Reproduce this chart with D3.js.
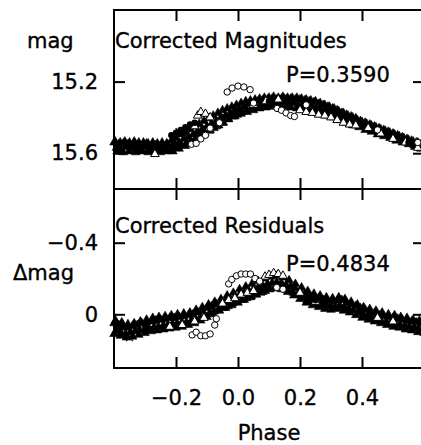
<!DOCTYPE html>
<html><head><meta charset="utf-8">
<script src="https://cdn.jsdelivr.net/npm/d3@7"></script>
<style>
body{margin:0;background:#fff}
svg{display:block}
text{font-family:"DejaVu Sans",sans-serif;fill:#000}
</style>
</head><body>
<svg id="chart" width="421" height="445"></svg>
<script>
// ---------- data ----------
const phaseTicks = [-0.2, 0.0, 0.2, 0.4];
const magTicks = [15.2, 15.6];
const resTicks = [-0.4, 0];
const panelTitles = ["Corrected Magnitudes", "Corrected Residuals"];
const periods = ["P=0.3590", "P=0.4834"];

// top panel: [phase, mag]
const magFilledTri = [[-0.400,15.54],[-0.392,15.57],[-0.385,15.55],[-0.378,15.58],[-0.370,15.545],[-0.362,15.565],[-0.355,15.55],[-0.347,15.575],[-0.340,15.56],[-0.332,15.545],[-0.325,15.57],[-0.317,15.555],[-0.310,15.58],[-0.302,15.56],[-0.295,15.545],[-0.287,15.575],[-0.280,15.56],[-0.272,15.58],[-0.265,15.555],[-0.257,15.57],[-0.250,15.585],[-0.242,15.56],[-0.235,15.575],[-0.227,15.55],[-0.220,15.58],[-0.212,15.565],[-0.205,15.545],[-0.197,15.57],[-0.190,15.54],[-0.182,15.555],[-0.175,15.52],[-0.167,15.545],[-0.160,15.51],[-0.152,15.53],[-0.145,15.495],[-0.137,15.52],[-0.130,15.48],[-0.122,15.505],[-0.115,15.465],[-0.107,15.49],[-0.100,15.45],[-0.092,15.475],[-0.085,15.435],[-0.077,15.46],[-0.070,15.42],[-0.062,15.445],[-0.055,15.40],[-0.047,15.43],[-0.040,15.39],[-0.032,15.41],[-0.025,15.375],[-0.017,15.395],[-0.010,15.36],[-0.002,15.385],[0.005,15.35],[0.013,15.37],[0.020,15.34],[0.028,15.36],[0.035,15.325],[0.043,15.35],[0.050,15.32],[0.058,15.345],[0.065,15.31],[0.073,15.335],[0.080,15.305],[0.088,15.33],[0.095,15.30],[0.103,15.325],[0.110,15.295],[0.118,15.32],[0.125,15.30],[0.133,15.325],[0.140,15.295],[0.148,15.32],[0.155,15.30],[0.163,15.325],[0.170,15.295],[0.178,15.32],[0.185,15.30],[0.193,15.33],[0.200,15.30],[0.208,15.325],[0.215,15.305],[0.223,15.335],[0.230,15.31],[0.238,15.34],[0.245,15.315],[0.253,15.345],[0.260,15.325],[0.268,15.355],[0.275,15.33],[0.283,15.36],[0.290,15.34],[0.298,15.37],[0.305,15.35],[0.313,15.38],[0.320,15.36],[0.328,15.39],[0.335,15.375],[0.343,15.40],[0.350,15.385],[0.358,15.41],[0.365,15.395],[0.373,15.425],[0.380,15.405],[0.388,15.435],[0.395,15.42],[0.403,15.45],[0.410,15.43],[0.418,15.455],[0.425,15.44],[0.433,15.47],[0.440,15.45],[0.448,15.475],[0.455,15.46],[0.463,15.485],[0.470,15.47],[0.478,15.495],[0.485,15.48],[0.493,15.505],[0.500,15.49],[0.508,15.515],[0.515,15.50],[0.523,15.525],[0.530,15.51],[0.538,15.535],[0.545,15.52],[0.553,15.545],[0.560,15.53],[0.568,15.555],[0.575,15.54],[0.583,15.565],[0.590,15.55],[0.598,15.57]];
const magFilledTriUpper = [[-0.396,15.535],[-0.38,15.54],[-0.365,15.535],[-0.35,15.54],[-0.335,15.535],[-0.32,15.54],[-0.305,15.54],[-0.29,15.545],[-0.275,15.54],[-0.26,15.545],[-0.245,15.54],[-0.23,15.545],[-0.215,15.53],[-0.2,15.515],[-0.185,15.495],[-0.17,15.48],[-0.155,15.465],[-0.14,15.45],[-0.125,15.435],[-0.11,15.42],[-0.095,15.405],[-0.08,15.39],[-0.065,15.375],[-0.05,15.36],[-0.035,15.35],[-0.02,15.34],[-0.005,15.33],[0.01,15.32],[0.025,15.31],[0.04,15.305],[0.055,15.30],[0.07,15.295],[0.085,15.29],[0.1,15.29],[0.115,15.285],[0.13,15.29],[0.145,15.285],[0.16,15.29],[0.175,15.29],[0.19,15.29],[0.205,15.295],[0.22,15.30],[0.235,15.305],[0.25,15.31],[0.265,15.32],[0.28,15.33],[0.295,15.34],[0.31,15.35],[0.325,15.365],[0.34,15.375],[0.355,15.39],[0.37,15.40],[0.385,15.415],[0.40,15.425],[0.415,15.435],[0.43,15.445],[0.445,15.455],[0.46,15.465],[0.475,15.475],[0.49,15.485],[0.505,15.495],[0.52,15.505],[0.535,15.515],[0.55,15.525],[0.565,15.535],[0.58,15.54],[0.595,15.545]];
const magFilledTriLower = [[-0.39,15.59],[-0.37,15.595],[-0.35,15.59],[-0.33,15.595],[-0.31,15.59],[-0.29,15.595],[-0.27,15.59],[-0.25,15.595],[-0.23,15.59],[-0.21,15.59],[-0.19,15.575],[-0.17,15.56],[-0.15,15.54],[-0.13,15.515],[-0.11,15.49],[-0.09,15.47],[-0.07,15.45],[-0.05,15.43],[-0.03,15.41],[-0.01,15.395],[0.01,15.38],[0.03,15.37],[0.05,15.36],[0.07,15.35],[0.09,15.345],[0.11,15.34],[0.13,15.34],[0.15,15.34],[0.17,15.345],[0.19,15.35],[0.21,15.355],[0.23,15.36],[0.25,15.37],[0.27,15.38],[0.29,15.39],[0.31,15.40],[0.33,15.415],[0.35,15.43],[0.37,15.445],[0.39,15.455],[0.41,15.47],[0.43,15.48],[0.45,15.495],[0.47,15.505],[0.49,15.515],[0.51,15.53],[0.53,15.54],[0.55,15.55],[0.57,15.565],[0.59,15.575]];
const magCross = [[-0.39,15.56],[-0.36,15.55],[-0.33,15.565],[-0.29,15.57],[-0.26,15.56],[-0.23,15.57],[-0.20,15.55],[-0.19,15.48],[-0.17,15.50],[-0.15,15.47],[-0.13,15.46],[-0.11,15.47],[-0.08,15.44],[-0.06,15.42],[-0.04,15.40],[-0.02,15.38],[0.01,15.36],[0.04,15.34],[0.07,15.32],[0.10,15.31],[0.12,15.30],[0.14,15.29],[0.16,15.31],[0.18,15.31],[0.21,15.32],[0.24,15.33],[0.27,15.35],[0.30,15.37],[0.33,15.39],[0.36,15.41],[0.39,15.43],[0.42,15.46],[0.45,15.48],[0.48,15.49],[0.51,15.51],[0.54,15.53],[0.57,15.55],[0.59,15.56]];
const magOpenTri = [[-0.268,15.605],[-0.14,15.45],[-0.13,15.39],[-0.12,15.37],[-0.105,15.38],[-0.09,15.40],[0.05,15.33],[0.09,15.31],[0.13,15.30],[0.20,15.36],[0.22,15.37],[0.24,15.375],[0.26,15.385],[0.28,15.39],[0.30,15.40],[0.32,15.415],[0.34,15.43],[0.36,15.44],[0.38,15.445],[0.42,15.46],[0.46,15.49],[0.50,15.52],[0.54,15.54],[0.58,15.57]];
const magOpenCirc = [[-0.035,15.258],[-0.019,15.236],[0.0,15.225],[0.019,15.23],[0.039,15.245],[0.126,15.35],[0.14,15.36],[0.155,15.375],[0.17,15.39],[0.182,15.395],[-0.15,15.55],[-0.135,15.545],[-0.12,15.52],[-0.105,15.50],[-0.09,15.46],[0.05,15.32],[0.22,15.33],[0.45,15.47],[0.58,15.54],[-0.06,15.43]];
const magFilledCirc = [[-0.30,15.56],[-0.25,15.555],[-0.215,15.50],[-0.20,15.485],[-0.185,15.47],[-0.17,15.455],[-0.155,15.44],[-0.14,15.43],[0.10,15.31],[0.30,15.36],[0.55,15.54]];

// bottom panel: [phase, delta mag]
const resFilledTri = [[-0.400,0.05],[-0.392,0.09],[-0.385,0.06],[-0.378,0.10],[-0.370,0.07],[-0.362,0.11],[-0.355,0.075],[-0.347,0.10],[-0.340,0.065],[-0.332,0.095],[-0.325,0.06],[-0.317,0.09],[-0.310,0.05],[-0.302,0.085],[-0.295,0.045],[-0.287,0.08],[-0.280,0.04],[-0.272,0.075],[-0.265,0.035],[-0.257,0.07],[-0.250,0.03],[-0.242,0.065],[-0.235,0.025],[-0.227,0.06],[-0.220,0.02],[-0.212,0.055],[-0.205,0.02],[-0.197,0.05],[-0.190,0.015],[-0.182,0.05],[-0.175,0.01],[-0.167,0.045],[-0.160,0.005],[-0.152,0.04],[-0.145,0.0],[-0.137,0.03],[-0.130,-0.01],[-0.122,0.02],[-0.115,-0.02],[-0.107,0.01],[-0.100,-0.035],[-0.092,-0.005],[-0.085,-0.045],[-0.077,-0.015],[-0.070,-0.055],[-0.062,-0.025],[-0.055,-0.065],[-0.047,-0.035],[-0.040,-0.075],[-0.032,-0.045],[-0.025,-0.085],[-0.017,-0.06],[-0.010,-0.095],[-0.002,-0.07],[0.005,-0.11],[0.013,-0.08],[0.020,-0.12],[0.028,-0.09],[0.035,-0.13],[0.043,-0.10],[0.050,-0.14],[0.058,-0.11],[0.065,-0.15],[0.073,-0.12],[0.080,-0.16],[0.088,-0.13],[0.095,-0.17],[0.103,-0.14],[0.110,-0.175],[0.118,-0.15],[0.125,-0.18],[0.133,-0.15],[0.140,-0.175],[0.148,-0.14],[0.155,-0.165],[0.163,-0.13],[0.170,-0.155],[0.178,-0.12],[0.185,-0.145],[0.193,-0.11],[0.200,-0.13],[0.208,-0.095],[0.215,-0.115],[0.223,-0.08],[0.230,-0.10],[0.238,-0.07],[0.245,-0.095],[0.253,-0.06],[0.260,-0.09],[0.268,-0.055],[0.275,-0.08],[0.283,-0.05],[0.290,-0.075],[0.298,-0.045],[0.305,-0.07],[0.313,-0.04],[0.320,-0.075],[0.328,-0.045],[0.335,-0.08],[0.343,-0.04],[0.350,-0.065],[0.358,-0.03],[0.365,-0.055],[0.373,-0.02],[0.380,-0.045],[0.388,-0.01],[0.395,-0.035],[0.403,0.0],[0.410,-0.025],[0.418,0.01],[0.425,-0.015],[0.433,0.02],[0.440,-0.005],[0.448,0.03],[0.455,0.005],[0.463,0.04],[0.470,0.01],[0.478,0.045],[0.485,0.015],[0.493,0.05],[0.500,0.02],[0.508,0.055],[0.515,0.025],[0.523,0.06],[0.530,0.03],[0.538,0.065],[0.545,0.035],[0.553,0.07],[0.560,0.04],[0.568,0.075],[0.575,0.045],[0.583,0.08],[0.590,0.05],[0.598,0.085]];
const resFilledTriUpper = [[-0.395,0.035],[-0.375,0.045],[-0.355,0.055],[-0.335,0.05],[-0.315,0.04],[-0.295,0.03],[-0.275,0.02],[-0.255,0.015],[-0.235,0.01],[-0.215,0.005],[-0.195,0.0],[-0.175,-0.005],[-0.155,-0.01],[-0.135,-0.025],[-0.115,-0.04],[-0.095,-0.055],[-0.075,-0.07],[-0.055,-0.085],[-0.035,-0.105],[-0.015,-0.12],[0.005,-0.14],[0.025,-0.155],[0.045,-0.17],[0.065,-0.185],[0.085,-0.2],[0.105,-0.21],[0.125,-0.215],[0.145,-0.205],[0.165,-0.19],[0.185,-0.17],[0.205,-0.15],[0.225,-0.13],[0.245,-0.115],[0.265,-0.105],[0.285,-0.095],[0.305,-0.09],[0.325,-0.095],[0.345,-0.085],[0.365,-0.07],[0.385,-0.055],[0.405,-0.04],[0.425,-0.03],[0.445,-0.02],[0.465,-0.01],[0.485,0.0],[0.505,0.005],[0.525,0.015],[0.545,0.02],[0.565,0.03],[0.585,0.035]];
const resFilledTriLower = [[-0.40,0.11],[-0.38,0.12],[-0.36,0.13],[-0.34,0.125],[-0.32,0.115],[-0.30,0.105],[-0.28,0.095],[-0.26,0.09],[-0.24,0.085],[-0.22,0.08],[-0.20,0.075],[-0.18,0.07],[-0.16,0.06],[-0.14,0.05],[-0.12,0.035],[-0.10,0.015],[-0.08,0.0],[-0.06,-0.02],[-0.04,-0.035],[-0.02,-0.05],[0.0,-0.065],[0.02,-0.08],[0.04,-0.095],[0.06,-0.11],[0.08,-0.125],[0.10,-0.14],[0.12,-0.145],[0.14,-0.14],[0.16,-0.125],[0.18,-0.105],[0.20,-0.085],[0.22,-0.065],[0.24,-0.05],[0.26,-0.04],[0.28,-0.03],[0.30,-0.025],[0.32,-0.03],[0.34,-0.02],[0.36,-0.01],[0.38,0.005],[0.40,0.02],[0.42,0.03],[0.44,0.04],[0.46,0.05],[0.48,0.06],[0.50,0.07],[0.52,0.075],[0.54,0.085],[0.56,0.09],[0.58,0.1],[0.60,0.105]];
const resCross = [[-0.39,0.06],[-0.37,0.08],[-0.35,0.13],[-0.33,0.09],[-0.30,0.07],[-0.27,0.06],[-0.24,0.05],[-0.21,0.04],[-0.18,0.03],[-0.15,0.02],[-0.12,0.0],[-0.09,-0.02],[-0.06,-0.05],[-0.03,-0.07],[0.0,-0.10],[0.03,-0.11],[0.06,-0.14],[0.09,-0.15],[0.12,-0.16],[0.15,-0.15],[0.18,-0.13],[0.21,-0.11],[0.24,-0.09],[0.27,-0.07],[0.30,-0.06],[0.33,-0.06],[0.36,-0.04],[0.39,-0.03],[0.42,-0.01],[0.45,0.01],[0.48,0.03],[0.51,0.04],[0.54,0.05],[0.57,0.06],[0.595,0.07]];
const resOpenTri = [[-0.22,0.07],[-0.18,0.06],[-0.14,0.04],[-0.11,0.02],[-0.05,-0.06],[-0.03,-0.08],[-0.01,-0.09],[0.01,-0.11],[0.03,-0.12],[0.05,-0.13],[0.087,-0.21],[0.10,-0.22],[0.115,-0.23],[0.13,-0.225],[0.145,-0.215],[0.2,-0.12],[0.25,-0.07],[0.45,0.02],[0.5,0.04]];
const resOpenCirc = [[-0.03,-0.17],[-0.02,-0.195],[-0.005,-0.215],[0.01,-0.225],[0.025,-0.225],[0.04,-0.225],[-0.148,0.115],[-0.135,0.10],[-0.12,0.12],[-0.105,0.12],[-0.09,0.11],[-0.075,0.06],[-0.07,0.025],[0.055,-0.20],[0.07,-0.185],[0.125,-0.15],[0.145,-0.14]];
const resFilledCirc = [[-0.38,0.07],[-0.30,0.06],[0.15,-0.15],[0.25,-0.08],[0.40,-0.01]];

// ---------- drawing ----------
const svg = d3.select("#chart");
const x = d3.scaleLinear().domain([-0.4, 0.6]).range([114, 424]);
const yTop = d3.scaleLinear().domain([14.8, 15.8]).range([10, 189]);
const yBot = d3.scaleLinear().domain([-0.7, 0.3]).range([189, 368]);
const FS = 21;

function styleAxis(g){
  g.select(".domain").remove();
  g.selectAll(".tick line").attr("stroke","#000").attr("stroke-width",2);
  g.selectAll(".tick text").attr("font-size",FS).attr("font-family","DejaVu Sans")
    .attr("fill","#000").attr("stroke","#000").attr("stroke-width",0.35);
}

const tri = d3.symbol().type(d3.symbolTriangle).size(32);
const cross = "M-3.5,-3.5L3.5,3.5M-3.5,3.5L3.5,-3.5";

function drawPanel(y, data){
  const g = svg.append("g");
  data.filledTri.forEach(series => {
    g.append("g").selectAll("path").data(series).join("path")
      .attr("transform", d => `translate(${x(d[0])},${y(d[1])})`)
      .attr("d", tri).attr("fill","#000").attr("stroke","#000").attr("stroke-width",0.6);
  });
  g.append("g").selectAll("path").data(data.cross).join("path")
    .attr("transform", d => `translate(${x(d[0])},${y(d[1])})`)
    .attr("d", cross).attr("fill","none").attr("stroke","#000").attr("stroke-width",1.2);
  g.append("g").selectAll("path").data(data.openTri).join("path")
    .attr("transform", d => `translate(${x(d[0])},${y(d[1])})`)
    .attr("d", tri).attr("fill","#fff").attr("stroke","#000").attr("stroke-width",1);
  g.append("g").selectAll("circle").data(data.filledCirc).join("circle")
    .attr("cx", d => x(d[0])).attr("cy", d => y(d[1])).attr("r",3.2).attr("fill","#000");
  g.append("g").selectAll("circle").data(data.openCirc).join("circle")
    .attr("cx", d => x(d[0])).attr("cy", d => y(d[1])).attr("r",3.2)
    .attr("fill","#fff").attr("stroke","#000").attr("stroke-width",1);
}

drawPanel(yTop, {filledTri: [magFilledTriUpper, magFilledTriLower, magFilledTri], cross: magCross, openTri: magOpenTri, openCirc: magOpenCirc, filledCirc: magFilledCirc});
drawPanel(yBot, {filledTri: [resFilledTriUpper, resFilledTriLower, resFilledTri], cross: resCross, openTri: resOpenTri, openCirc: resOpenCirc, filledCirc: resFilledCirc});

// frames
[yTop, yBot].forEach(y => {
  svg.append("rect").attr("x", x(-0.4)).attr("y", y.range()[0])
    .attr("width", x(0.6) - x(-0.4)).attr("height", y.range()[1] - y.range()[0])
    .attr("fill","none").attr("stroke","#000").attr("stroke-width",2);
});

// x ticks
const edges = [[yTop.range()[0], "top"], [yTop.range()[1], "bottom"], [yBot.range()[0], "top"]];
edges.forEach(([yy, side]) => {
  const ax = (side === "top" ? d3.axisTop(x) : d3.axisBottom(x)).tickValues(phaseTicks).tickSize(-11).tickFormat("");
  svg.append("g").attr("transform", `translate(0,${yy})`).call(ax).call(styleAxis);
});
svg.append("g").attr("transform", `translate(0,${yBot.range()[1]})`)
  .call(d3.axisBottom(x).tickValues(phaseTicks).tickSize(-11).tickPadding(22).tickFormat(d3.format(".1f")))
  .call(styleAxis);

// y ticks
svg.append("g").attr("transform", `translate(${x(-0.4)},0)`)
  .call(d3.axisLeft(yTop).tickValues(magTicks).tickSize(-11).tickPadding(16).tickFormat(d3.format(".1f")))
  .call(styleAxis);
svg.append("g").attr("transform", `translate(${x(0.6)},0)`)
  .call(d3.axisRight(yTop).tickValues(magTicks).tickSize(-11).tickFormat(""))
  .call(styleAxis);
svg.append("g").attr("transform", `translate(${x(-0.4)},0)`)
  .call(d3.axisLeft(yBot).tickValues(resTicks).tickSize(-11).tickPadding(16).tickFormat(d => d === 0 ? "0" : d3.format(".1f")(d)))
  .call(styleAxis);
svg.append("g").attr("transform", `translate(${x(0.6)},0)`)
  .call(d3.axisRight(yBot).tickValues(resTicks).tickSize(-11).tickFormat(""))
  .call(styleAxis);

// labels
const t = (s, xx, yy, anchor="start") => svg.append("text").attr("x", xx).attr("y", yy)
  .attr("font-size", FS).attr("text-anchor", anchor)
  .attr("stroke","#000").attr("stroke-width",0.35).text(s);
t(panelTitles[0], 115, 48);
t(periods[0], 286, 82);
t(panelTitles[1], 115, 233);
t(periods[1], 286, 271);
t("mag", 27, 48);
t("Δmag", 13, 280);
t("Phase", 269, 440, "middle");
</script>
</body></html>
